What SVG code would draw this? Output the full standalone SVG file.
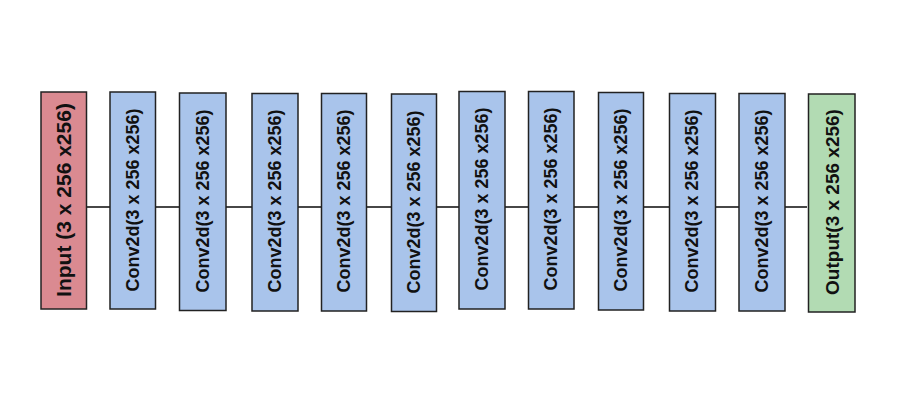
<svg xmlns="http://www.w3.org/2000/svg" width="916" height="402" viewBox="0 0 916 402">
<style>
rect{stroke:#222;stroke-width:1.5}
.in{fill:#da8a91}
.cv{fill:#a9c4eb}
.out{fill:#b2dbb3}
text{font-family:"Liberation Sans",Arial,sans-serif;font-weight:bold;fill:#111;text-anchor:middle}
.t{font-size:18px}
.ti{font-size:21px}
.to{font-size:19px}
#connectors line{stroke:#333;stroke-width:1.8}
</style>
<rect width="916" height="402" fill="#fff" style="stroke:none"/>
<g id="connectors">
<line x1="86.5" y1="207" x2="110" y2="207"/>
<line x1="155.5" y1="207" x2="179.5" y2="207"/>
<line x1="226" y1="207" x2="252" y2="207"/>
<line x1="298" y1="207" x2="321.5" y2="207"/>
<line x1="366.5" y1="207" x2="391.5" y2="207"/>
<line x1="436.5" y1="207" x2="459" y2="207"/>
<line x1="505" y1="207" x2="528.5" y2="207"/>
<line x1="574" y1="207" x2="598.5" y2="207"/>
<line x1="643.5" y1="207" x2="669.5" y2="207"/>
<line x1="715.5" y1="207" x2="739" y2="207"/>
<line x1="785" y1="207" x2="807" y2="207"/>
</g>
<g id="input"><rect class="in" x="41" y="92" width="45.5" height="217"/><text class="ti" transform="translate(71,200) rotate(-90)">Input (3 x 256 x256)</text></g>
<g id="conv1"><rect class="cv" x="110" y="92" width="45.5" height="217"/><text class="t" transform="translate(139,200) rotate(-90)">Conv2d(3 x 256 x256)</text></g>
<g id="conv2"><rect class="cv" x="179.5" y="93" width="46.5" height="217.5"/><text class="t" transform="translate(209,201) rotate(-90)">Conv2d(3 x 256 x256)</text></g>
<g id="conv3"><rect class="cv" x="252" y="93.5" width="46" height="217.5"/><text class="t" transform="translate(281,201) rotate(-90)">Conv2d(3 x 256 x256)</text></g>
<g id="conv4"><rect class="cv" x="321.5" y="93.5" width="45" height="217.5"/><text class="t" transform="translate(350,201) rotate(-90)">Conv2d(3 x 256 x256)</text></g>
<g id="conv5"><rect class="cv" x="391.5" y="94" width="45" height="217.5"/><text class="t" transform="translate(420,202) rotate(-90)">Conv2d(3 x 256 x256)</text></g>
<g id="conv6"><rect class="cv" x="459" y="91.5" width="46" height="217.5"/><text class="t" transform="translate(488,199) rotate(-90)">Conv2d(3 x 256 x256)</text></g>
<g id="conv7"><rect class="cv" x="528.5" y="91.5" width="45.5" height="217.5"/><text class="t" transform="translate(557,199) rotate(-90)">Conv2d(3 x 256 x256)</text></g>
<g id="conv8"><rect class="cv" x="598.5" y="92.5" width="45" height="217.5"/><text class="t" transform="translate(627,200) rotate(-90)">Conv2d(3 x 256 x256)</text></g>
<g id="conv9"><rect class="cv" x="669.5" y="93.5" width="46" height="217.5"/><text class="t" transform="translate(698,201) rotate(-90)">Conv2d(3 x 256 x256)</text></g>
<g id="conv10"><rect class="cv" x="739" y="93.5" width="46" height="217.5"/><text class="t" transform="translate(768,201) rotate(-90)">Conv2d(3 x 256 x256)</text></g>
<g id="output"><rect class="out" x="808.5" y="94" width="46.5" height="218"/><text class="to" transform="translate(838.5,202) rotate(-90)">Output(3 x 256 x256)</text></g>
</svg>
